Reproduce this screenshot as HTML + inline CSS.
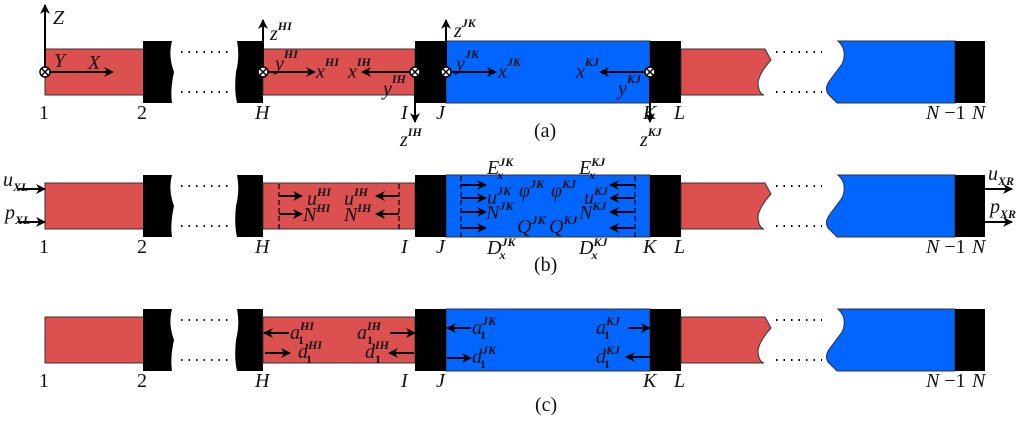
<!DOCTYPE html>
<html><head><meta charset="utf-8"><style>
html,body{margin:0;padding:0;background:#fff}
svg{display:block}
text{font-family:"Liberation Serif","DejaVu Serif",serif;font-style:italic;font-size:20px;fill:#111}
.n{font-style:normal}
.s{font-size:12px;font-weight:bold}
</style></head><body>
<svg width="1024" height="421" viewBox="0 0 1024 421" xmlns="http://www.w3.org/2000/svg">
<defs>
<marker id="ah" viewBox="0 0 10 10" refX="9" refY="5" markerWidth="10" markerHeight="10" markerUnits="userSpaceOnUse" orient="auto"><path d="M0,0 L10,5 L0,10 L3,5 z" fill="#000"/></marker>
<g id="base">
<rect x="45" y="49" width="100" height="46" fill="#dc5050" stroke="#333" stroke-width="1"/>
<path d="M143,41 L172,41 Q168,56 174,72 Q170,90 172,103 L143,103 z" fill="#000"/>
<path d="M237,41 L263,41 L263,103 L237,103 Q234,90 236,72 Q240,56 237,41 z" fill="#000"/>
<rect x="263" y="49" width="152" height="46" fill="#dc5050" stroke="#333" stroke-width="1"/>
<rect x="446" y="41" width="204" height="62" fill="#0066ff" stroke="#333" stroke-width="1"/>
<rect x="415" y="41" width="31" height="62" fill="#000"/>
<rect x="650" y="41" width="31" height="62" fill="#000"/>
<path d="M681,49 L765,49 L771,60 Q760,72 758,82 Q758,93 764,95 L681,95 z" fill="#dc5050" stroke="#333" stroke-width="1"/>
<path d="M838,41 L955,41 L955,103 L837,103 L828,94 Q824,88 830,80 L842,64 Q848,50 838,41 z" fill="#0066ff" stroke="#333" stroke-width="1"/>
<rect x="955" y="41" width="30" height="62" fill="#000"/>
<g stroke="#000" stroke-width="2" stroke-dasharray="1.5 6" fill="none">
<line x1="181" y1="52" x2="228" y2="52"/><line x1="181" y1="92" x2="228" y2="92"/>
<line x1="776" y1="52" x2="822" y2="52"/><line x1="776" y1="92" x2="822" y2="92"/>
</g>
<text class="n" x="39" y="119">1</text>
<text class="n" x="137" y="119">2</text>
<text x="255" y="119">H</text>
<text x="401" y="119">I</text>
<text x="436" y="119">J</text>
<text x="643" y="119">K</text>
<text x="674" y="119">L</text>
<text x="926" y="119">N<tspan class="n"> −1</tspan></text>
<text x="972" y="119">N</text>
</g>
<g id="xo"><circle r="5" fill="#fff" stroke="#000" stroke-width="1.5"/><path d="M-3.5,-3.5 L3.5,3.5 M-3.5,3.5 L3.5,-3.5" stroke="#000" stroke-width="1.5"/></g>
</defs>

<!-- (a) -->
<use href="#base"/>
<g stroke="#000" stroke-width="2" fill="none" marker-end="url(#ah)">
<line x1="45" y1="72" x2="45" y2="5"/>
<line x1="50" y1="72" x2="113" y2="72"/>
<line x1="263" y1="72" x2="263" y2="20"/>
<line x1="268" y1="72" x2="315" y2="72"/>
<line x1="410" y1="72" x2="362" y2="72"/>
<line x1="415" y1="72" x2="415" y2="122"/>
<line x1="446" y1="72" x2="446" y2="20"/>
<line x1="451" y1="72" x2="496" y2="72"/>
<line x1="645" y1="72" x2="600" y2="72"/>
<line x1="650" y1="72" x2="650" y2="122"/>
</g>
<use href="#xo" x="45" y="72"/><use href="#xo" x="263" y="72"/><use href="#xo" x="415" y="72"/><use href="#xo" x="446" y="72"/><use href="#xo" x="650" y="72"/>
<text x="53" y="24">Z</text>
<text x="54" y="67">Y</text>
<text x="88" y="69">X</text>
<text x="270" y="40">z<tspan class="s" dy="-10">HI</tspan></text>
<text x="275" y="70">y<tspan class="s" dy="-12">HI</tspan></text>
<text x="316" y="78">x<tspan class="s" dy="-12">HI</tspan></text>
<text x="348" y="78">x<tspan class="s" dy="-12">IH</tspan></text>
<text x="383" y="95">y<tspan class="s" dy="-12">IH</tspan></text>
<text x="400" y="146">z<tspan class="s" dy="-10">IH</tspan></text>
<text x="454" y="37">z<tspan class="s" dy="-10">JK</tspan></text>
<text x="456" y="70">y<tspan class="s" dy="-12">JK</tspan></text>
<text x="498" y="78">x<tspan class="s" dy="-12">JK</tspan></text>
<text x="576" y="78">x<tspan class="s" dy="-12">KJ</tspan></text>
<text x="618" y="95">y<tspan class="s" dy="-12">KJ</tspan></text>
<text x="640" y="146">z<tspan class="s" dy="-10">KJ</tspan></text>
<text class="n" x="534" y="137">(a)</text>

<!-- (b) -->
<use href="#base" y="134"/>
<g stroke="#000" stroke-width="2" fill="none" marker-end="url(#ah)">
<line x1="18" y1="189" x2="45" y2="189"/>
<line x1="18" y1="222" x2="45" y2="222"/>
<line x1="985" y1="189" x2="1012" y2="189"/>
<line x1="985" y1="222" x2="1012" y2="222"/>
<line x1="279" y1="196" x2="302" y2="196"/>
<line x1="279" y1="214" x2="302" y2="214"/>
<line x1="399" y1="196" x2="376" y2="196"/>
<line x1="399" y1="214" x2="376" y2="214"/>
<line x1="461" y1="185" x2="486" y2="185"/>
<line x1="461" y1="198" x2="486" y2="198"/>
<line x1="461" y1="212" x2="486" y2="212"/>
<line x1="461" y1="228" x2="486" y2="228"/>
<line x1="635" y1="185" x2="610" y2="185"/>
<line x1="635" y1="198" x2="610" y2="198"/>
<line x1="635" y1="212" x2="610" y2="212"/>
<line x1="635" y1="228" x2="610" y2="228"/>
</g>
<g stroke="#000" stroke-width="1.2" stroke-dasharray="5 3">
<line x1="279" y1="184" x2="279" y2="229"/><line x1="399" y1="184" x2="399" y2="229"/>
<line x1="461" y1="176" x2="461" y2="238"/><line x1="635" y1="176" x2="635" y2="238"/>
</g>
<text x="3" y="186">u<tspan class="s" dy="5">XL</tspan></text>
<text x="5" y="219">p<tspan class="s" dy="5">XL</tspan></text>
<text x="988" y="180">u<tspan class="s" dy="5">XR</tspan></text>
<text x="990" y="213">p<tspan class="s" dy="5">XR</tspan></text>
<text x="307" y="205">u<tspan class="s" dy="-9">HI</tspan></text>
<text x="344" y="205">u<tspan class="s" dy="-9">IH</tspan></text>
<text x="303" y="221">N<tspan class="s" dy="-9">HI</tspan></text>
<text x="344" y="221">N<tspan class="s" dy="-9">IH</tspan></text>
<text x="487" y="174">E<tspan class="s" dy="-8">JK</tspan><tspan class="s" dx="-16" dy="13">x</tspan></text>
<text x="579" y="174">E<tspan class="s" dy="-8">KJ</tspan><tspan class="s" dx="-16" dy="13">x</tspan></text>
<text x="487" y="254">D<tspan class="s" dy="-8">JK</tspan><tspan class="s" dx="-16" dy="13">x</tspan></text>
<text x="579" y="254">D<tspan class="s" dy="-8">KJ</tspan><tspan class="s" dx="-16" dy="13">x</tspan></text>
<text x="487" y="204">u<tspan class="s" dy="-9">JK</tspan></text>
<text x="519" y="197">φ<tspan class="s" dy="-9">JK</tspan></text>
<text x="551" y="197">φ<tspan class="s" dy="-9">KJ</tspan></text>
<text x="584" y="204">u<tspan class="s" dy="-9">KJ</tspan></text>
<text x="486" y="219">N<tspan class="s" dy="-9">JK</tspan></text>
<text x="579" y="219">N<tspan class="s" dy="-9">KJ</tspan></text>
<text x="517" y="233">Q<tspan class="s" dy="-9">JK</tspan></text>
<text x="549" y="233">Q<tspan class="s" dy="-9">KJ</tspan></text>
<text class="n" x="534" y="271">(b)</text>

<!-- (c) -->
<use href="#base" y="268"/>
<g stroke="#000" stroke-width="2" fill="none" marker-end="url(#ah)">
<line x1="289" y1="333" x2="264" y2="333"/>
<line x1="265" y1="353" x2="290" y2="353"/>
<line x1="390" y1="333" x2="415" y2="333"/>
<line x1="414" y1="353" x2="389" y2="353"/>
<line x1="471" y1="328" x2="447" y2="328"/>
<line x1="447" y1="358" x2="471" y2="358"/>
<line x1="628" y1="328" x2="650" y2="328"/>
<line x1="650" y1="357" x2="626" y2="357"/>
</g>
<text x="290" y="339">a<tspan class="s" dy="-9">HI</tspan><tspan class="s n" dx="-16" dy="14">1</tspan></text>
<text x="357" y="339">a<tspan class="s" dy="-9">IH</tspan><tspan class="s n" dx="-14" dy="14">1</tspan></text>
<text x="298" y="358">d<tspan class="s" dy="-9">HI</tspan><tspan class="s n" dx="-16" dy="14">1</tspan></text>
<text x="365" y="358">d<tspan class="s" dy="-9">IH</tspan><tspan class="s n" dx="-14" dy="14">1</tspan></text>
<text x="472" y="334">a<tspan class="s" dy="-9">JK</tspan><tspan class="s n" dx="-16" dy="14">1</tspan></text>
<text x="472" y="363">d<tspan class="s" dy="-9">JK</tspan><tspan class="s n" dx="-16" dy="14">1</tspan></text>
<text x="596" y="334">a<tspan class="s" dy="-9">KJ</tspan><tspan class="s n" dx="-16" dy="14">1</tspan></text>
<text x="596" y="363">d<tspan class="s" dy="-9">KJ</tspan><tspan class="s n" dx="-16" dy="14">1</tspan></text>
<text class="n" x="535" y="411">(c)</text>
</svg>
</body></html>
